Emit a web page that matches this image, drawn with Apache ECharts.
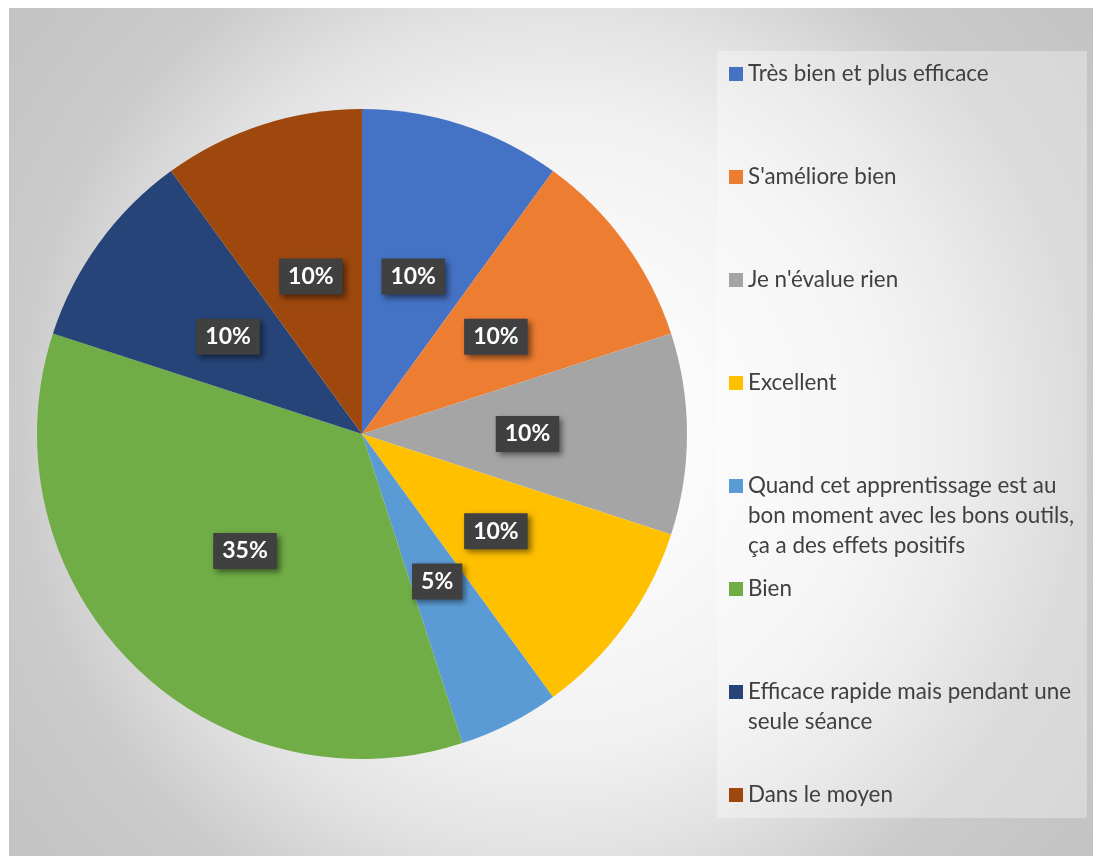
<!DOCTYPE html>
<html>
<head>
<meta charset="utf-8">
<title>Répartition des appréciations</title>
<script src="https://cdn.jsdelivr.net/npm/echarts@6/dist/echarts.min.js"></script>
<style>
  html, body { margin: 0; padding: 0; background: #ffffff; }
  #chart { width: 1093px; height: 856px; }
</style>
</head>
<body>
<div id="chart"></div>
<script>
// Answer categories and their share of responses (%)
const categories = [
  "Très bien et plus efficace",
  "S'améliore bien",
  "Je n'évalue rien",
  "Excellent",
  "Quand cet apprentissage est au bon moment avec les bons outils, ça a des effets positifs",
  "Bien",
  "Efficace rapide mais pendant une seule séance",
  "Dans le moyen"
];
const shares = [10, 10, 10, 10, 5, 35, 10, 10];

// Legend text split into lines as displayed
const legendLines = [
  ["Très bien et plus efficace"],
  ["S'améliore bien"],
  ["Je n'évalue rien"],
  ["Excellent"],
  ["Quand cet apprentissage est au", "bon moment avec les bons outils,", "ça a des effets positifs"],
  ["Bien"],
  ["Efficace rapide mais pendant une", "seule séance"],
  ["Dans le moyen"]
];

const colors = ['#4472C4', '#ED7D31', '#A5A5A5', '#FFC000', '#5B9BD5', '#70AD47', '#264478', '#9E480E'];

const FONT = 'Lato, "Noto Sans", sans-serif';
const LINE = 30;

const chart = echarts.init(document.getElementById('chart'), null, { renderer: 'canvas' });

// One legend block per entry so every entry starts on an even rhythm.
// The swatch sits on the first text line: blank lines above the text keep
// the first line at the vertical middle of the entry.
const legendCenters = [74, 177, 280, 383, 486, 589, 692, 795];
const legends = categories.map((name, i) => {
  const n = legendLines[i].length;
  const blanks = new Array(n - 1).fill(' ');
  return {
    data: [name],
    orient: 'vertical',
    left: 729,
    top: legendCenters[i] - ((2 * n - 1) * LINE) / 2,
    padding: 0,
    itemWidth: 14,
    itemHeight: 14,
    icon: 'rect',
    selectedMode: false,
    formatter: () => blanks.concat(legendLines[i]).join('\n'),
    textStyle: {
      fontFamily: FONT,
      fontSize: 22.4,
      color: '#404040',
      lineHeight: LINE
    }
  };
});

const option = {
  animation: false,
  color: colors,
  graphic: [
    {
      type: 'rect',
      z: -10,
      silent: true,
      shape: { x: 9, y: 8, width: 1084, height: 848 },
      style: {
        fill: new echarts.graphic.RadialGradient(0.5, 0.5, 0.83, [
          { offset: 0, color: '#ffffff' },
          { offset: 0.2, color: '#fbfbfb' },
          { offset: 0.45, color: '#f1f1f1' },
          { offset: 0.6, color: '#e2e2e2' },
          { offset: 0.76, color: '#cbcbcb' },
          { offset: 1, color: '#c2c2c2' }
        ])
      }
    },
    {
      type: 'rect',
      z: -9,
      silent: true,
      shape: { x: 717, y: 51, width: 370, height: 767 },
      style: { fill: 'rgba(255,255,255,0.32)' }
    }
  ],
  legend: legends,
  series: [
    {
      type: 'pie',
      center: [362, 434],
      radius: 325,
      startAngle: 90,
      clockwise: true,
      avoidLabelOverlap: false,
      data: categories.map((name, i) => ({ name, value: shares[i] })),
      itemStyle: { borderWidth: 0 },
      label: {
        show: true,
        position: 'inside',
        formatter: (p) => p.value + '%',
        fontFamily: FONT,
        fontWeight: 'bold',
        fontSize: 23,
        lineHeight: 26,
        color: '#ffffff',
        backgroundColor: '#404040',
        padding: [5, 9],
        shadowBlur: 6,
        shadowColor: 'rgba(0,0,0,0.5)',
        shadowOffsetX: 3,
        shadowOffsetY: 3
      },
      labelLine: { show: false },
      emphasis: { disabled: true }
    }
  ]
};

chart.setOption(option);
</script>
</body>
</html>
